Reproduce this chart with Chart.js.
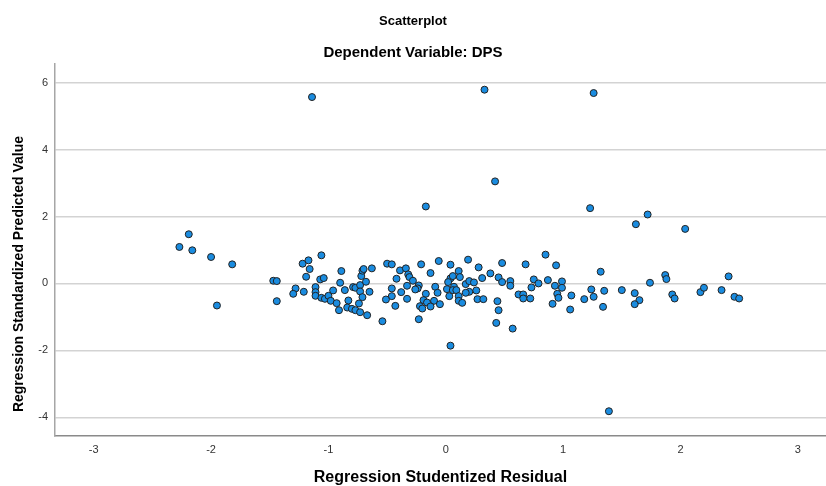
<!DOCTYPE html>
<html>
<head>
<meta charset="utf-8">
<title>Scatterplot</title>
<script src="https://cdn.jsdelivr.net/npm/chart.js@4.4.1/dist/chart.umd.min.js"></script>
<style>
  html, body { margin: 0; padding: 0; background: #fff; }
  #wrap { width: 826px; height: 486px; }
</style>
</head>
<body>
<div id="wrap"><canvas id="scatterChart" width="826" height="486"></canvas></div>
<script>
// values
const residuals = [
  -2.19, -2.27, -2.16, -2.00, -1.82, -1.95, -1.47, -1.44, -1.44, -1.22,
  -1.17, -1.16, -1.19, -1.28, -1.30, -1.21, -1.06, -1.07, -1.04, -1.11,
  -1.11, -1.11, -1.06, -1.03, -1.00, -0.98, -0.96, -0.93, -0.91, -0.89,
  -0.90, -0.86, -0.83, -0.84, -0.80, -0.77, -0.73, -0.67, -0.74, -0.79,
  -0.77, -0.73, -0.73, -0.71, -0.65, -0.68, -0.72, -0.71, -0.70, -0.63,
  -0.54, -0.50, -0.46, -0.39, -0.34, -0.32, -0.31, -0.42, -0.28, -0.33,
  -0.23, -0.24, -0.26, -0.46, -0.38, -0.46, -0.51, -0.43, -0.33, -0.21,
  -0.13, -0.06, -0.17, -0.19, -0.16, -0.10, -0.09, -0.07, -0.22, -0.20,
  -0.13, -0.05, -0.23, 0.04, 0.04, 0.06, 0.02, 0.01, 0.03, 0.07,
  0.06, 0.09, 0.11, 0.12, 0.11, 0.11, 0.14, 0.19, 0.17, 0.20,
  0.24, 0.20, 0.17, 0.26, 0.28, 0.31, 0.27, 0.32, 0.38, 0.48,
  0.45, 0.48, 0.55, 0.55, 0.44, 0.45, 0.43, 0.57, 0.04, 0.62,
  0.66, 0.66, 0.72, 0.68, 0.73, 0.75, 0.79, 0.85, 0.87, 0.91,
  0.94, 0.93, 0.99, 0.99, 0.95, 0.96, 1.07, 1.06, 1.18, 1.24,
  1.26, 1.32, 1.35, 1.34, 1.50, 1.61, 1.65, 1.61, 1.74, 1.87,
  1.88, 1.93, 1.95, 2.17, 2.20, 2.35, 2.41, 2.46, 2.50, 1.39,
  -1.14, 0.33, 1.26, 0.42, -0.17, 1.23, 1.72, 1.62, 2.04
];
const predicted = [
  1.47, 1.09, 0.99, 0.79, 0.57, -0.66, 0.08, 0.07, -0.53, 0.59,
  0.69, 0.43, 0.20, -0.15, -0.31, -0.25, 0.84, 0.12, 0.16, -0.11,
  -0.26, -0.37, -0.43, -0.46, -0.37, -0.52, -0.21, -0.59, -0.80, 0.37,
  0.02, -0.20, -0.51, -0.72, -0.76, -0.80, -0.86, -0.95, -0.60, -0.11,
  -0.13, -0.05, -0.24, -0.41, -0.25, 0.05, 0.22, 0.38, 0.43, 0.45,
  -1.13, 0.59, 0.57, 0.39, 0.45, 0.27, 0.19, 0.14, 0.08, -0.07,
  -0.06, -0.15, -0.18, -0.15, -0.26, -0.38, -0.48, -0.67, -0.46, 0.57,
  0.31, 0.67, -0.31, -0.50, -0.57, -0.52, -0.10, -0.28, -0.68, -0.75,
  -0.69, -0.62, -1.07, 0.56, 0.15, 0.22, 0.04, -0.17, -0.38, -0.10,
  -0.20, -0.20, 0.37, 0.19, -0.38, -0.52, -0.58, 0.71, -0.02, 0.07,
  0.03, -0.25, -0.28, -0.21, 0.48, 0.16, -0.47, -0.47, 0.30, 0.61,
  0.18, 0.04, 0.07, -0.07, -0.53, -0.80, -1.18, -1.35, -1.86, -0.33,
  -0.33, -0.45, -0.45, 0.57, -0.12, 0.12, 0.00, 0.86, 0.10, -0.61,
  0.54, -0.07, 0.06, -0.13, -0.31, -0.43, -0.36, -0.78, -0.47, -0.18,
  -0.40, 0.35, -0.22, -0.70, -0.20, -0.29, -0.50, -0.62, 0.02, 0.25,
  0.13, -0.33, -0.45, -0.26, -0.13, -0.20, 0.21, -0.40, -0.45, -3.82,
  5.57, 5.79, 5.69, 3.05, 2.30, 2.25, 2.06, 1.77, 1.63
];
const xTicks = [-3, -2, -1, 0, 1, 2, 3];
const yTicks = [-4, -2, 0, 2, 4, 6];

const points = residuals.map((r, i) => ({ x: r, y: predicted[i] }));

const fontFamily = "'Liberation Sans', Arial, sans-serif";

// y axis title sits a bit below the middle of the plot in the original
const yTitlePlugin = {
    id: 'yTitle',
    afterDraw(chart) {
        const ctx = chart.ctx;
        const area = chart.chartArea;
        ctx.save();
        ctx.translate(19, area.top + (area.bottom - area.top) * 0.565);
        ctx.rotate(-Math.PI / 2);
        ctx.font = "bold 14px " + fontFamily;
        ctx.fillStyle = '#000';
        ctx.textAlign = 'center';
        ctx.textBaseline = 'middle';
        ctx.fillText('Regression Standardized Predicted Value', 0, 0);
        ctx.restore();
    }
};

const ctx = document.getElementById('scatterChart').getContext('2d');
const chart = new Chart(ctx, {
    type: 'scatter',
    data: {
        datasets: [{
            label: 'DPS',
            data: points,
            backgroundColor: '#1a8ce0',
            borderColor: '#222',
            borderWidth: 1,
            pointRadius: 3.5,
            pointHoverRadius: 3.5
        }]
    },
    options: {
        responsive: false,
        animation: false,
        // no extra room for point overflow: plot runs to the right edge
        layout: { padding: 0, autoPadding: false },
        plugins: {
            legend: { display: false },
            tooltip: { enabled: false },
            title: {
                display: true,
                text: 'Scatterplot',
                color: '#000',
                font: { family: fontFamily, size: 13, weight: 'bold' },
                padding: { top: 14, bottom: 0 }
            },
            subtitle: {
                display: true,
                text: 'Dependent Variable: DPS',
                color: '#000',
                font: { family: fontFamily, size: 15, weight: 'bold' },
                padding: { top: 14, bottom: 2 }
            }
        },
        scales: {
            x: {
                type: 'linear',
                min: -3.33,
                max: 3.24,
                afterBuildTicks: scale => { scale.ticks = xTicks.map(v => ({ value: v })); },
                afterFit: scale => {
                    scale.height = 50;
                    scale.paddingLeft = 0;
                    scale.paddingRight = 0;
                },
                grid: { display: false, drawTicks: false },
                border: { display: true, color: '#8a8a8a', width: 1.5 },
                ticks: {
                    color: '#333',
                    padding: 7,
                    font: { family: fontFamily, size: 11 }
                },
                title: {
                    display: true,
                    text: 'Regression Studentized Residual',
                    color: '#000',
                    font: { family: fontFamily, size: 16, weight: 'bold', lineHeight: 1 },
                    padding: { top: 0, bottom: 0 }
                }
            },
            y: {
                type: 'linear',
                min: -4.56,
                max: 6.57,
                afterBuildTicks: scale => { scale.ticks = yTicks.map(v => ({ value: v })); },
                afterFit: scale => { scale.width = 55; },
                grid: { color: '#d3d3d3', lineWidth: 1.5, drawTicks: false },
                border: { display: true, color: '#a6a6a6', width: 1.5 },
                ticks: {
                    color: '#333',
                    padding: 7,
                    font: { family: fontFamily, size: 11 }
                }
            }
        }
    },
    plugins: [yTitlePlugin]
});
</script>
</body>
</html>
